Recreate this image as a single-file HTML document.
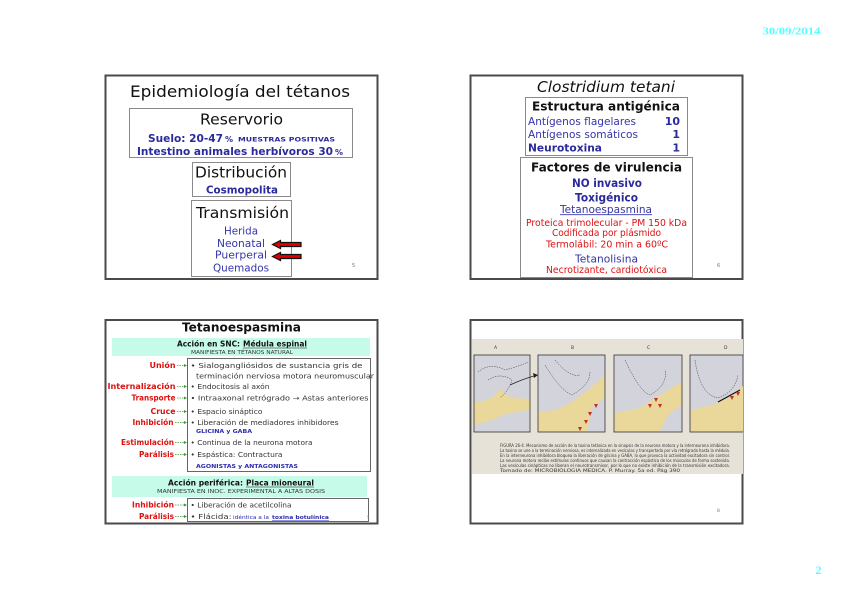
<!DOCTYPE html>
<html><head><meta charset="utf-8"><style>
html,body{margin:0;padding:0;background:#fff;}
svg{display:block;}
</style></head><body>
<svg width="848" height="599" viewBox="0 0 848 599" xmlns="http://www.w3.org/2000/svg" font-family="DejaVu Sans, Liberation Sans, sans-serif">
<rect width="848" height="599" fill="#fff"/>
<text x="762.5" y="34.5" font-family="Liberation Serif, serif" font-weight="bold" font-size="11" fill="#5ff" textLength="58" lengthAdjust="spacingAndGlyphs">30/09/2014</text>
<text x="815.5" y="574" font-family="Liberation Serif, serif" font-weight="bold" font-size="12" fill="#5ff">2</text>

<!-- Slide 1 -->
<rect x="105.5" y="75.5" width="272" height="203.5" fill="#fff" stroke="#4a4a4a" stroke-width="2"/>
<text x="130" y="97" font-size="16" fill="#111" textLength="220" lengthAdjust="spacingAndGlyphs">Epidemiología del tétanos</text>
<rect x="129.5" y="108.5" width="223" height="49" fill="#fff" stroke="#8a8a8a" stroke-width="1"/>
<text x="200" y="124.5" font-size="15" fill="#111" textLength="83" lengthAdjust="spacingAndGlyphs">Reservorio</text>
<text x="148" y="142" font-size="11" font-weight="bold" fill="#2a2a9c" textLength="75" lengthAdjust="spacingAndGlyphs">Suelo: 20-47</text>
<text x="225" y="142" font-size="8" font-weight="bold" fill="#2a2a9c">%</text>
<text x="238" y="141.5" font-size="6.5" font-weight="bold" fill="#2a2a9c" textLength="97" lengthAdjust="spacingAndGlyphs">MUESTRAS POSITIVAS</text>
<text x="137" y="155" font-size="11" font-weight="bold" fill="#2a2a9c" textLength="196" lengthAdjust="spacingAndGlyphs">Intestino animales herbívoros 30</text>
<text x="335" y="155" font-size="8" font-weight="bold" fill="#2a2a9c">%</text>

<rect x="192.5" y="162.5" width="98" height="34" fill="#fff" stroke="#8a8a8a" stroke-width="1"/>
<text x="195" y="177.5" font-size="15" fill="#111" textLength="92" lengthAdjust="spacingAndGlyphs">Distribución</text>
<text x="206" y="193.5" font-size="11" font-weight="bold" fill="#2a2a9c" textLength="72" lengthAdjust="spacingAndGlyphs">Cosmopolita</text>

<rect x="191.5" y="200.5" width="100" height="76" fill="#fff" stroke="#8a8a8a" stroke-width="1"/>
<text x="196" y="218" font-size="15" fill="#111" textLength="93" lengthAdjust="spacingAndGlyphs">Transmisión</text>
<g font-size="11" fill="#3535a8">
<text x="224" y="234.5" textLength="34" lengthAdjust="spacingAndGlyphs">Herida</text>
<text x="217" y="247" textLength="48" lengthAdjust="spacingAndGlyphs">Neonatal</text>
<text x="215" y="258.5" textLength="52" lengthAdjust="spacingAndGlyphs">Puerperal</text>
<text x="213" y="271.5" textLength="56" lengthAdjust="spacingAndGlyphs">Quemados</text>
</g>
<g stroke="#111" stroke-width="1.2" fill="#e00000">
<polygon points="272.5,244.5 280.5,240.5 280.5,242.5 301,242.5 301,246.5 280.5,246.5 280.5,248.5"/>
<polygon points="272.5,256.5 280.5,252.5 280.5,254.5 301,254.5 301,258.5 280.5,258.5 280.5,260.5"/>
</g>
<text x="352" y="267" font-size="5" fill="#777">5</text>

<!-- Slide 2 -->
<rect x="470.5" y="75.5" width="272" height="203.5" fill="#fff" stroke="#4a4a4a" stroke-width="2"/>
<text x="537" y="92" font-size="15" font-style="italic" fill="#111" textLength="138" lengthAdjust="spacingAndGlyphs">Clostridium tetani</text>
<rect x="525.5" y="97.5" width="162" height="58" fill="#fff" stroke="#8a8a8a" stroke-width="1"/>
<text x="532" y="110.5" font-size="12.5" font-weight="bold" fill="#111" textLength="148" lengthAdjust="spacingAndGlyphs">Estructura antigénica</text>
<g font-size="11" fill="#3535a8">
<text x="528" y="125" textLength="108" lengthAdjust="spacingAndGlyphs">Antígenos flagelares</text>
<text x="528" y="138" textLength="110" lengthAdjust="spacingAndGlyphs">Antígenos somáticos</text>
</g>
<g font-size="11" font-weight="bold" fill="#2a2a9c">
<text x="528" y="151.5" textLength="74" lengthAdjust="spacingAndGlyphs">Neurotoxina</text>
<text x="680" y="125" text-anchor="end">10</text>
<text x="680" y="138" text-anchor="end">1</text>
<text x="680" y="151.5" text-anchor="end">1</text>
</g>
<rect x="520.5" y="157.5" width="172" height="120" fill="#fff" stroke="#8a8a8a" stroke-width="1"/>
<text x="531" y="171.5" font-size="12.5" font-weight="bold" fill="#111" textLength="151" lengthAdjust="spacingAndGlyphs">Factores de virulencia</text>
<text x="572" y="187" font-size="11.5" font-weight="bold" fill="#2a2a9c" textLength="70" lengthAdjust="spacingAndGlyphs">NO invasivo</text>
<text x="575" y="201.5" font-size="11.5" font-weight="bold" fill="#2a2a9c" textLength="63" lengthAdjust="spacingAndGlyphs">Toxigénico</text>
<text x="560" y="213" font-size="11" fill="#3535a8" textLength="92" lengthAdjust="spacingAndGlyphs">Tetanoespasmina</text>
<line x1="560" y1="214.7" x2="652" y2="214.7" stroke="#3535a8" stroke-width="0.8"/>
<g font-size="9.5" fill="#dd1010">
<text x="526" y="226" textLength="161" lengthAdjust="spacingAndGlyphs">Proteica trimolecular - PM 150 kDa</text>
<text x="552" y="236" textLength="109" lengthAdjust="spacingAndGlyphs">Codificada por plásmido</text>
<text x="546" y="247.5" textLength="122" lengthAdjust="spacingAndGlyphs">Termolábil: 20 min a 60ºC</text>
<text x="546" y="273" textLength="121" lengthAdjust="spacingAndGlyphs">Necrotizante, cardiotóxica</text>
</g>
<text x="575" y="262.5" font-size="11" fill="#3535a8" textLength="63" lengthAdjust="spacingAndGlyphs">Tetanolisina</text>
<text x="717" y="267" font-size="5" fill="#777">6</text>

<!-- Slide 3 -->
<rect x="105.5" y="320" width="272" height="203.5" fill="#fff" stroke="#4a4a4a" stroke-width="2"/>
<text x="182" y="331.5" font-size="12.5" font-weight="bold" fill="#111" textLength="119" lengthAdjust="spacingAndGlyphs">Tetanoespasmina</text>
<rect x="112" y="338" width="258" height="18" fill="#c6fbea"/>
<text x="177" y="346.5" font-size="7.5" font-weight="bold" fill="#111" textLength="63" lengthAdjust="spacingAndGlyphs">Acción en SNC:</text>
<text x="243" y="346.5" font-size="7.5" font-weight="bold" fill="#111" textLength="64" lengthAdjust="spacingAndGlyphs">Médula espinal</text>
<line x1="243" y1="348" x2="307" y2="348" stroke="#111" stroke-width="0.6"/>
<text x="191" y="354" font-size="5" fill="#333" textLength="102" lengthAdjust="spacingAndGlyphs">MANIFIESTA EN TÉTANOS NATURAL</text>
<rect x="187.5" y="358.5" width="183" height="113" fill="#fff" stroke="#666" stroke-width="1"/>
<rect x="112" y="476" width="255" height="21" fill="#c6fbea"/>
<rect x="187.5" y="498.5" width="181" height="23" fill="#fff" stroke="#666" stroke-width="1"/>
<g font-size="7.2" fill="#333">
<text x="190.5" y="368" textLength="172" lengthAdjust="spacingAndGlyphs">• Sialogangliósidos de sustancia gris de</text>
<text x="196" y="378.5" textLength="178" lengthAdjust="spacingAndGlyphs">terminación nerviosa motora neuromuscular</text>
<text x="190.5" y="389" textLength="79" lengthAdjust="spacingAndGlyphs">• Endocitosis al axón</text>
<text x="190.5" y="400.5" textLength="178" lengthAdjust="spacingAndGlyphs">• Intraaxonal retrógrado → Astas anteriores</text>
<text x="190.5" y="414" textLength="72" lengthAdjust="spacingAndGlyphs">• Espacio sináptico</text>
<text x="190.5" y="425" textLength="148" lengthAdjust="spacingAndGlyphs">• Liberación de mediadores inhibidores</text>
<text x="190.5" y="445" textLength="122" lengthAdjust="spacingAndGlyphs">• Continua de la neurona motora</text>
<text x="190.5" y="457" textLength="92" lengthAdjust="spacingAndGlyphs">• Espástica: Contractura</text>
<text x="190.5" y="507.5" textLength="101" lengthAdjust="spacingAndGlyphs">• Liberación de acetilcolina</text>
<text x="190.5" y="519" textLength="41" lengthAdjust="spacingAndGlyphs">• Flácida:</text>
</g>
<g font-size="5.2" font-weight="bold" fill="#2a2ab0">
<text x="196" y="433" textLength="56" lengthAdjust="spacingAndGlyphs">GLICINA y GABA</text>
<text x="196" y="468" textLength="102" lengthAdjust="spacingAndGlyphs">AGONISTAS y ANTAGONISTAS</text>
<text x="272" y="519" textLength="57" lengthAdjust="spacingAndGlyphs">toxina botulínica</text>
</g>
<line x1="272" y1="520.3" x2="329" y2="520.3" stroke="#2a2ab0" stroke-width="0.5"/>
<text x="233" y="519" font-size="5" fill="#2a2ab0" textLength="36" lengthAdjust="spacingAndGlyphs">idéntica a la</text>
<g font-size="7.8" font-weight="bold" fill="#dd1010" text-anchor="end">
<text x="175.5" y="368" textLength="26" lengthAdjust="spacingAndGlyphs">Unión</text>
<text x="175.5" y="389" textLength="68" lengthAdjust="spacingAndGlyphs">Internalización</text>
<text x="175.5" y="400.5" textLength="44" lengthAdjust="spacingAndGlyphs">Transporte</text>
<text x="175.5" y="414" textLength="25" lengthAdjust="spacingAndGlyphs">Cruce</text>
<text x="173.5" y="425" textLength="41" lengthAdjust="spacingAndGlyphs">Inhibición</text>
<text x="174" y="445" textLength="53" lengthAdjust="spacingAndGlyphs">Estimulación</text>
<text x="174" y="457" textLength="35" lengthAdjust="spacingAndGlyphs">Parálisis</text>
<text x="174" y="507.5" textLength="42" lengthAdjust="spacingAndGlyphs">Inhibición</text>
<text x="174" y="519" textLength="35" lengthAdjust="spacingAndGlyphs">Parálisis</text>
</g>
<g stroke="#3a9a3a" stroke-width="0.8" stroke-dasharray="1.5,1" fill="none">
<line x1="177" y1="365.5" x2="185" y2="365.5"/>
<line x1="177" y1="386.5" x2="185" y2="386.5"/>
<line x1="177" y1="398" x2="185" y2="398"/>
<line x1="177" y1="411.5" x2="185" y2="411.5"/>
<line x1="175" y1="422.5" x2="185" y2="422.5"/>
<line x1="175" y1="442.5" x2="185" y2="442.5"/>
<line x1="175" y1="454.5" x2="185" y2="454.5"/>
<line x1="175" y1="505" x2="185" y2="505"/>
<line x1="175" y1="516.5" x2="185" y2="516.5"/>
</g>
<g fill="#3a9a3a">
<polygon points="187,365.5 184,364 184,367"/>
<polygon points="187,386.5 184,385 184,388"/>
<polygon points="187,398 184,396.5 184,399.5"/>
<polygon points="187,411.5 184,410 184,413"/>
<polygon points="187,422.5 184,421 184,424"/>
<polygon points="187,442.5 184,441 184,444"/>
<polygon points="187,454.5 184,453 184,456"/>
<polygon points="187,505 184,503.5 184,506.5"/>
<polygon points="187,516.5 184,515 184,518"/>
</g>
<text x="168" y="485.5" font-size="8" font-weight="bold" fill="#111" textLength="75" lengthAdjust="spacingAndGlyphs">Acción periférica:</text>
<text x="246" y="485.5" font-size="8" font-weight="bold" fill="#111" textLength="68" lengthAdjust="spacingAndGlyphs">Placa mioneural</text>
<line x1="246" y1="487" x2="314" y2="487" stroke="#111" stroke-width="0.6"/>
<text x="157" y="493" font-size="5" fill="#333" textLength="168" lengthAdjust="spacingAndGlyphs">MANIFIESTA EN INOC. EXPERIMENTAL A ALTAS DOSIS</text>
<text x="367" y="519" font-size="4" fill="#888">5</text>

<!-- Slide 4 -->
<rect x="470.5" y="320" width="272" height="203.5" fill="#fff" stroke="#4a4a4a" stroke-width="2"/>
<rect x="472" y="339" width="271" height="135" fill="#e7e2d7"/>
<g font-size="4.5" fill="#333">
<text x="494" y="349">A</text><text x="571" y="349">B</text><text x="647" y="349">C</text><text x="724" y="349">D</text>
</g>
<!-- panel A -->
<rect x="474" y="355" width="56" height="77" fill="#d3d3db" stroke="#333" stroke-width="0.8"/>
<polygon points="474.5,402 488,400 496,394 500,388 503,393 512,398 529.5,399 529.5,410 505,414 492,420 474.5,425" fill="#ead79a"/>
<path d="M478,372 Q490,362 505,370 Q520,366 528,362 M488,380 Q500,372 512,380 Q508,392 500,398" fill="none" stroke="#333" stroke-width="0.5" stroke-dasharray="1.5,1"/>
<path d="M510,385 Q525,378 538,375" fill="none" stroke="#222" stroke-width="0.8"/>
<polygon points="538,375 533,373 534,378" fill="#222"/>
<!-- panel B -->
<rect x="538" y="355" width="67" height="77" fill="#d3d3db" stroke="#333" stroke-width="0.8"/>
<polygon points="538.5,412 556,410 572,402 590,388 604.5,376 604.5,398 592,408 587,431.5 538.5,431.5" fill="#ead79a"/>
<path d="M545,365 Q560,390 572,395 Q590,385 590,372 M555,360 Q570,378 580,375" fill="none" stroke="#333" stroke-width="0.5" stroke-dasharray="1.5,1"/>
<g fill="#c0302a"><polygon points="588,412 592,412 590,416"/><polygon points="584,420 588,420 586,424"/><polygon points="578,427 582,427 580,431"/><polygon points="594,404 598,404 596,408"/></g>
<!-- panel C -->
<rect x="614" y="355" width="68" height="77" fill="#d3d3db" stroke="#333" stroke-width="0.8"/>
<polygon points="614.5,413 640,408 660,395 681.5,382 681.5,405 668,415 660,431.5 614.5,431.5" fill="#ead79a"/>
<path d="M625,360 Q640,392 650,395 Q668,385 665,370" fill="none" stroke="#333" stroke-width="0.5" stroke-dasharray="1.5,1"/>
<g fill="#c0302a"><polygon points="654,398 658,398 656,402"/><polygon points="648,404 652,404 650,408"/><polygon points="658,404 662,404 660,408"/></g>
<!-- panel D -->
<rect x="690" y="355" width="53" height="77" fill="#d3d3db" stroke="#333" stroke-width="0.8"/>
<polygon points="690.5,410 712,405 728,398 743,386 743,431.5 690.5,431.5" fill="#ead79a"/>
<path d="M695,360 Q700,395 718,398 Q735,392 738,375" fill="none" stroke="#333" stroke-width="0.5" stroke-dasharray="1.5,1"/>
<line x1="718" y1="402" x2="740" y2="390" stroke="#111" stroke-width="1.2"/>
<g fill="#c0302a"><polygon points="730,396 734,396 732,400"/><polygon points="736,392 740,392 738,396"/></g>
<g font-size="4" fill="#333">
<text x="500" y="447" textLength="230" lengthAdjust="spacingAndGlyphs">FIGURA 26-4. Mecanismo de acción de la toxina tetánica en la sinapsis de la neurona motora y la interneurona inhibidora.</text>
<text x="500" y="452" textLength="230" lengthAdjust="spacingAndGlyphs">La toxina se une a la terminación nerviosa, es internalizada en vesículas y transportada por vía retrógrada hasta la médula.</text>
<text x="500" y="457" textLength="230" lengthAdjust="spacingAndGlyphs">En la interneurona inhibidora bloquea la liberación de glicina y GABA, lo que provoca la actividad excitadora sin control.</text>
<text x="500" y="462" textLength="230" lengthAdjust="spacingAndGlyphs">La neurona motora recibe estímulos continuos que causan la contracción espástica de los músculos de forma sostenida.</text>
<text x="500" y="467" textLength="230" lengthAdjust="spacingAndGlyphs">Las vesículas sinápticas no liberan el neurotransmisor, por lo que no existe inhibición de la transmisión excitadora.</text>
<text x="500" y="472" textLength="180" lengthAdjust="spacingAndGlyphs">Tomado de: MICROBIOLOGIA MEDICA. P. Murray. 5a ed. Pág 390</text>
</g>
<text x="717" y="512" font-size="4.5" fill="#777">8</text>
</svg>
</body></html>
